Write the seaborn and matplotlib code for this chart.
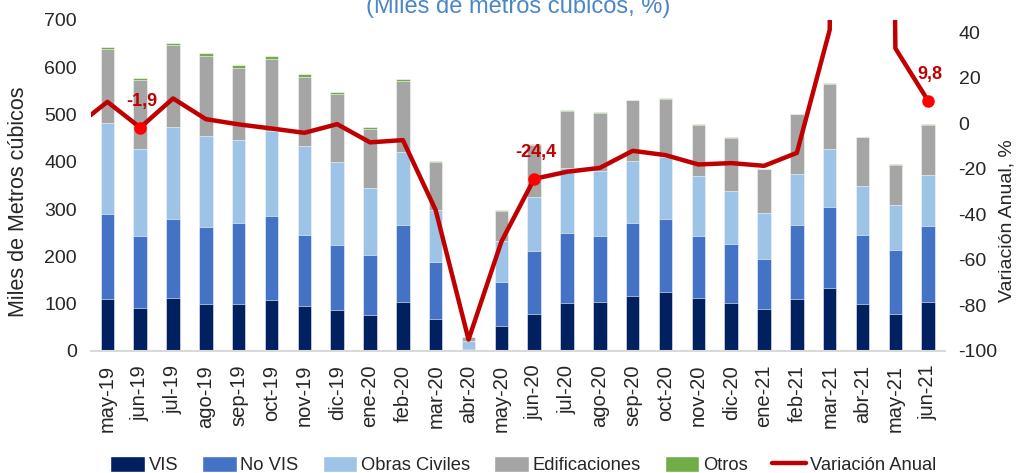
import numpy as np
import pandas as pd
import matplotlib
matplotlib.use("Agg")
import matplotlib.pyplot as plt
import seaborn as sns
from matplotlib.patches import Patch
from matplotlib.lines import Line2D

# Meses del eje X
meses = ["may-19", "jun-19", "jul-19", "ago-19", "sep-19", "oct-19", "nov-19", "dic-19",
         "ene-20", "feb-20", "mar-20", "abr-20", "may-20", "jun-20", "jul-20", "ago-20",
         "sep-20", "oct-20", "nov-20", "dic-20", "ene-21", "feb-21", "mar-21", "abr-21",
         "may-21", "jun-21"]

# Componentes (miles de m3)
vis = [109, 91, 112, 100, 99, 108, 95, 87, 77, 104, 68, 2, 52,
       78, 102, 104, 116, 125, 112, 102, 89, 110, 133, 100, 79, 104]
no_vis = [181, 153, 167, 162, 171, 177, 150, 138, 126, 162, 120, 3, 94,
          133, 148, 139, 155, 154, 132, 125, 105, 157, 172, 146, 135, 161]
obras_civiles = [191, 183, 194, 192, 175, 179, 188, 174, 142, 154, 110, 17, 86,
                 115, 137, 138, 130, 132, 126, 111, 97, 107, 122, 103, 94, 107]
edificaciones = [157, 146, 173, 170, 153, 154, 146, 145, 125, 151, 101, 7, 64,
                 109, 120, 122, 129, 122, 108, 113, 93, 126, 137, 103, 86, 106]
otros = [4, 5, 5, 6, 7, 6, 6, 4, 4, 3, 3, 1, 2,
         2, 3, 2, 1, 2, 2, 1, 1, 2, 3, 1, 2, 2]

# Variación anual (%), incluye abr-19 como punto previo al primer mes visible
var_meses_pos = list(range(-1, len(meses)))
variacion = [-2.0, 9.4, -1.9, 10.9, 1.8, -0.5, -2.3, -4.2, -0.4, -8.4, -7.4, -38.2, -95.0,
             -52.0, -24.4, -21.3, -19.6, -12.1, -14.0, -18.1, -17.5, -18.7, -13.0, 41.0,
             1410.0, 32.9, 9.8]
etiquetas = {"jun-19": "-1,9", "jun-20": "-24,4", "jun-21": "9,8"}

df = pd.DataFrame({"mes": meses, "VIS": vis, "No VIS": no_vis,
                   "Obras Civiles": obras_civiles, "Edificaciones": edificaciones,
                   "Otros": otros})
series = ["VIS", "No VIS", "Obras Civiles", "Edificaciones", "Otros"]
colores = {"VIS": "#002060", "No VIS": "#4472C4", "Obras Civiles": "#9DC3E6",
           "Edificaciones": "#A5A5A5", "Otros": "#70AD47"}
rojo = "#C00000"

sns.set_style("white")
plt.rcParams["font.family"] = ["Liberation Sans", "DejaVu Sans"]
plt.rcParams["axes.unicode_minus"] = False

fig = plt.figure(figsize=(10.36, 4.73), dpi=100)
ax = fig.add_axes([0.0878, 0.258, 0.824, 0.700])

# Barras apiladas: se dibujan acumulados de mayor a menor
acum = df[series].cumsum(axis=1)
for s in reversed(series):
    sns.barplot(x=df["mes"], y=acum[s], color=colores[s], width=0.41,
                saturation=1, ax=ax, edgecolor="white", linewidth=0.4)

ax.set_xlim(-0.5, len(meses) - 0.5)
ax.set_ylim(0, 700)
ax.set_yticks(range(0, 701, 100))
ax.set_xlabel("")
ax.set_ylabel("Miles de Metros cúbicos", fontsize=15.5)
ax.yaxis.set_label_coords(-0.073, 0.45)
ax.tick_params(axis="y", length=0, pad=10, labelsize=14)
ax.tick_params(axis="x", length=0, pad=10, labelsize=14.5, rotation=90)
for sp in ["top", "left", "right"]:
    ax.spines[sp].set_visible(False)
ax.spines["bottom"].set_color("#D9D9D9")
ax.spines["bottom"].set_linewidth(1.5)

# Línea de variación anual
ax2 = ax.twinx()
sns.lineplot(x=var_meses_pos, y=variacion, color=rojo, linewidth=3.2, ax=ax2)
for mes, txt in etiquetas.items():
    i = meses.index(mes)
    v = variacion[i + 1]
    ax2.plot(i, v, "o", color="#FF0000", markersize=8, zorder=5)
    ax2.annotate(txt, (i, v), xytext=(1, 13), textcoords="offset points",
                 ha="center", va="bottom", color=rojo, fontsize=13, fontweight="bold")
ax2.set_xlim(-0.5, len(meses) - 0.5)
ax2.set_ylim(-100, 45.4)
ax2.set_yticks(range(-100, 41, 20))
ax2.set_ylabel("Variación Anual, %", fontsize=14)
ax2.yaxis.set_label_coords(1.063, 0.393)
ax2.tick_params(axis="y", length=0, pad=10, labelsize=14)
for sp in ["top", "left", "right", "bottom"]:
    ax2.spines[sp].set_visible(False)

fig.text(0.5, 0.972, "(Miles de metros cúbicos, %)", ha="center", va="baseline",
         color="#4A86C8", fontsize=17)

handles = [Patch(facecolor=colores[s], label=s) for s in series]
handles.append(Line2D([0], [0], color=rojo, linewidth=3.2, label="Variación Anual"))
fig.legend(handles=handles, loc="center", bbox_to_anchor=(0.505, 0.016), ncol=6,
           frameon=False, fontsize=13.2, handlelength=1.9, handleheight=0.9,
           handletextpad=0.2, columnspacing=1.3)

fig.savefig("out.png", dpi=100)
